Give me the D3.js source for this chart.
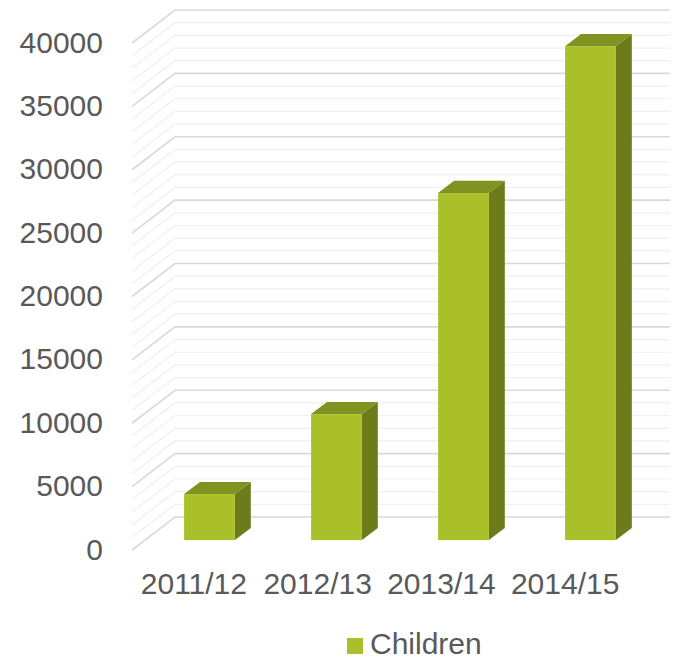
<!DOCTYPE html>
<html>
<head>
<meta charset="utf-8">
<script src="https://cdn.jsdelivr.net/npm/d3@7"></script>
<style>
  body { margin: 0; background: #fff; }
  svg { display: block; }
</style>
</head>
<body>
<div id="chart"></div>
<script>
// data
const categories = ["2011/12", "2012/13", "2013/14", "2014/15"];
const children = [3630, 9940, 27380, 38970];
const yTicks = [0, 5000, 10000, 15000, 20000, 25000, 30000, 35000, 40000];
const minorStep = 1000;
const seriesName = "Children";

const width = 675, height = 659;
const depthX = 43, depthY = 33;   // oblique offset from front to back wall
const frontLeft = 132, backRight = 670;

const svg = d3.select("#chart").append("svg")
    .attr("width", width)
    .attr("height", height);

// front plane value scale
const y = d3.scaleLinear().domain([0, 40000]).range([550, 43]);
// projected point at depth z (0 = front, 1 = back)
const px = (x, z) => x + z * depthX;
const py = (v, z) => y(v) - z * depthY;

// gridlines: left wall slants + back wall horizontals
const grid = svg.append("g");
const minorVals = d3.range(0, 40001, minorStep).filter(v => v % 5000 !== 0);

function gridLine(v, color, w) {
    grid.append("path")
        .attr("d", `M${frontLeft},${py(v, 0)} L${px(frontLeft, 1)},${py(v, 1)} L${backRight},${py(v, 1)}`)
        .attr("fill", "none")
        .attr("stroke", color)
        .attr("stroke-width", w);
}
minorVals.forEach(v => gridLine(v, "#efefef", 1.2));
yTicks.forEach(v => gridLine(v, "#d9d9d9", 1.6));

// y labels
svg.append("g").selectAll("text")
    .data(yTicks)
    .enter().append("text")
    .attr("x", 103)
    .attr("y", d => y(d) - 1)
    .attr("text-anchor", "end")
    .attr("dominant-baseline", "central")
    .attr("font-family", "Liberation Sans, Arial, sans-serif")
    .attr("font-size", "30px")
    .attr("fill", "#595959")
    .text(d => d);

// category labels sit on the front floor edge
const xLab = d3.scaleBand().domain(categories).range([frontLeft, backRight - depthX]);
svg.append("g").selectAll("text")
    .data(categories)
    .enter().append("text")
    .attr("x", d => xLab(d) + xLab.bandwidth() / 2)
    .attr("y", 594)
    .attr("text-anchor", "middle")
    .attr("font-family", "Liberation Sans, Arial, sans-serif")
    .attr("font-size", "30px")
    .attr("fill", "#595959")
    .text(d => d);

// bars (front face at z0, back at z1)
const xBar = d3.scaleBand().domain(categories).range([146, 654])
    .paddingInner(0.6).paddingOuter(0.3);
const z0 = 0.3, z1 = 0.67;
const frontColor = "#a9c02a", topColor = "#7f9420", sideColor = "#6c7c1b";

const bars = svg.append("g").selectAll("g")
    .data(categories.map((c, i) => ({ cat: c, value: children[i] })))
    .enter().append("g");

bars.each(function(d) {
    const g = d3.select(this);
    const xl = xBar(d.cat), xr = xl + xBar.bandwidth();
    const dz = z1 - z0;
    const yb = py(0, z0), yt = py(d.value, z0);
    const ox = dz * depthX, oy = dz * depthY;
    // side
    g.append("path")
        .attr("d", `M${xr},${yb} L${xr + ox},${yb - oy} L${xr + ox},${yt - oy} L${xr},${yt} Z`)
        .attr("fill", sideColor);
    // top
    g.append("path")
        .attr("d", `M${xl},${yt} L${xl + ox},${yt - oy} L${xr + ox},${yt - oy} L${xr},${yt} Z`)
        .attr("fill", topColor);
    // front
    g.append("rect")
        .attr("x", xl)
        .attr("y", yt)
        .attr("width", xr - xl)
        .attr("height", yb - yt)
        .attr("fill", frontColor);
});

// legend
const legend = svg.append("g");
legend.append("rect")
    .attr("x", 347).attr("y", 638)
    .attr("width", 16).attr("height", 16)
    .attr("fill", frontColor);
legend.append("text")
    .attr("x", 370).attr("y", 654)
    .attr("font-family", "Liberation Sans, Arial, sans-serif")
    .attr("font-size", "30px")
    .attr("fill", "#595959")
    .text(seriesName);
</script>
</body>
</html>
